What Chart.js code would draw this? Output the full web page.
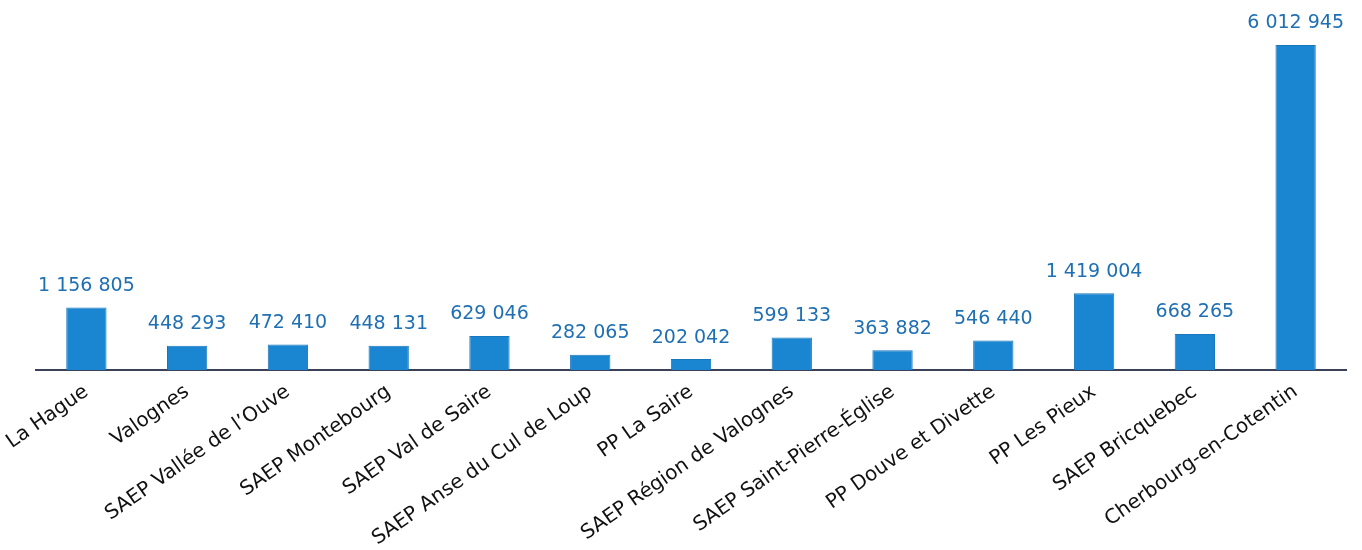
<!DOCTYPE html>
<html>
<head>
<meta charset="utf-8">
<script src="https://cdn.jsdelivr.net/npm/chart.js@4"></script>
<style>
  body { margin: 0; background: #fff; }
  #wrap { width: 1362px; height: 550px; }
</style>
</head>
<body>
<div id="wrap"><canvas id="volumeChart"></canvas></div>
<script>
// Catégories (collectivités)
const categories = [
  'La Hague', 'Valognes', "SAEP Vallée de l\u2019Ouve", 'SAEP Montebourg',
  'SAEP Val de Saire', 'SAEP Anse du Cul de Loup', 'PP La Saire',
  'SAEP Région de Valognes', 'SAEP Saint-Pierre-Église', 'PP Douve et Divette',
  'PP Les Pieux', 'SAEP Bricquebec', 'Cherbourg-en-Cotentin'
];
// Valeurs
const values = [
  1156805, 448293, 472410, 448131, 629046, 282065, 202042,
  599133, 363882, 546440, 1419004, 668265, 6012945
];

const barColor = '#1a85d0';
const labelColor = '#1f6fb3';

function formatNombre(v) {
  return String(v).replace(/\B(?=(\d{3})+(?!\d))/g, ' ');
}

// petit plugin pour les étiquettes au-dessus des barres
const valueLabels = {
  id: 'valueLabels',
  afterDatasetsDraw(chart) {
    const ctx = chart.ctx;
    const meta = chart.getDatasetMeta(0);
    ctx.save();
    ctx.font = '19px "DejaVu Sans"';
    ctx.fillStyle = labelColor;
    ctx.textAlign = 'center';
    ctx.textBaseline = 'bottom';
    meta.data.forEach((bar, i) => {
      ctx.fillText(formatNombre(chart.data.datasets[0].data[i]), bar.x, bar.y - 12);
    });
    ctx.restore();
  }
};

const ctx = document.getElementById('volumeChart');
new Chart(ctx.getContext('2d'), {
  type: 'bar',
  data: {
    labels: categories,
    datasets: [{
      data: values,
      backgroundColor: barColor,
      borderColor: '#1877bd',
      borderWidth: 1,
      categoryPercentage: 0.8,
      barPercentage: 0.5
    }]
  },
  options: {
    responsive: true,
    maintainAspectRatio: false,
    animation: false,
    layout: { padding: { left: 36, right: 16, top: 10, bottom: 0 } },
    plugins: {
      legend: { display: false },
      tooltip: { enabled: false }
    },
    scales: {
      y: {
        display: false,
        min: 0,
        max: 6660000
      },
      x: {
        grid: { display: false },
        border: { display: true, color: '#3b4157', width: 2 },
        ticks: {
          color: '#111',
          font: { family: 'DejaVu Sans', size: 20 },
          minRotation: 35,
          maxRotation: 35,
          autoSkip: false,
          padding: 2
        },
        afterFit(scale) { scale.height = 180; }
      }
    }
  },
  plugins: [valueLabels]
});
</script>
</body>
</html>
